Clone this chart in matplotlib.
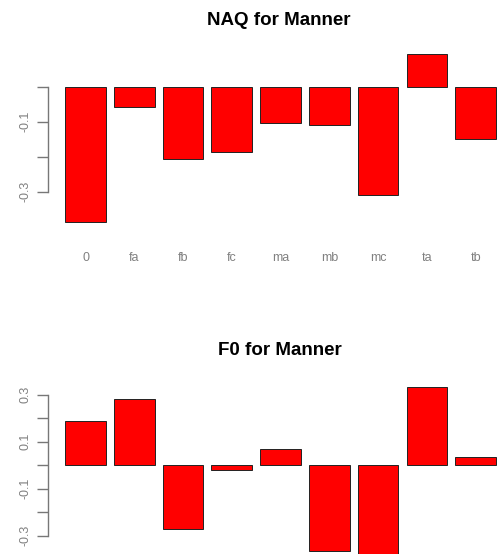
import matplotlib
matplotlib.use("Agg")
import matplotlib.pyplot as plt
import numpy as np

categories = ["0", "fa", "fb", "fc", "ma", "mb", "mc", "ta", "tb"]
naq_values = [-0.387, -0.059, -0.206, -0.187, -0.103, -0.109, -0.309, 0.093, -0.150]
f0_values = [0.190, 0.281, -0.272, -0.020, 0.069, -0.363, -0.390, 0.334, 0.034]
naq_ticks = [-0.3, -0.2, -0.1, 0.0]
naq_ticklabels = ["-0.3", "", "-0.1", ""]
f0_ticks = [-0.3, -0.2, -0.1, 0.0, 0.1, 0.2, 0.3]
f0_ticklabels = ["-0.3", "", "-0.1", "", "0.1", "", "0.3"]

plt.rcParams['font.family'] = ['Liberation Sans', 'DejaVu Sans']

W, H = 504, 554
fig = plt.figure(figsize=(W / 100, H / 100), dpi=100)

xpos = 0.7 + 1.2 * np.arange(len(categories))
xlim = (-0.224, 11.224)
px_per_unit = 40.63
left_px = 48
width_px = (xlim[1] - xlim[0]) * px_per_unit


def make_axes(top_px, bottom_px):
    return fig.add_axes([left_px / W, 1 - bottom_px / H, width_px / W, (bottom_px - top_px) / H])


def style(ax, values, ticks, ticklabels, ylim, show_x):
    ax.bar(xpos, values, width=1.0, color="#FF0000", edgecolor="#222222", linewidth=0.7)
    ax.set_xlim(*xlim)
    ax.set_ylim(*ylim)
    for s in ["top", "right", "bottom"]:
        ax.spines[s].set_visible(False)
    ax.spines["left"].set_bounds(ticks[0], ticks[-1])
    ax.spines["left"].set_color("#777777")
    ax.spines["left"].set_linewidth(1.0)
    ax.set_yticks(ticks)
    ax.set_yticklabels(ticklabels, rotation=90, va="center", fontsize=9, color="#808080")
    ax.tick_params(axis="y", length=8, width=1.0, color="#777777", pad=4)
    if show_x:
        ax.set_xticks(xpos)
        ax.set_xticklabels(categories, fontsize=9, color="#808080")
        ax.tick_params(axis="x", length=0, pad=17)
    else:
        ax.set_xticks([])
    ax.patch.set_visible(False)


# top plot: NAQ
ax1 = make_axes(47.5, 228.8)
style(ax1, naq_values, naq_ticks, naq_ticklabels, (-0.406, 0.112), True)
fig.text(279 / W, 1 - 20.7 / H, "NAQ for Manner", ha="center", va="center",
         fontsize=13.5, fontweight="bold")

# bottom plot: F0
ax2 = make_axes(378.35, 564.0)
style(ax2, f0_values, f0_ticks, f0_ticklabels, (-0.42, 0.37), False)
fig.text(280 / W, 1 - 350.7 / H, "F0 for Manner", ha="center", va="center",
         fontsize=13.5, fontweight="bold")

fig.savefig("out.png", dpi=100)
